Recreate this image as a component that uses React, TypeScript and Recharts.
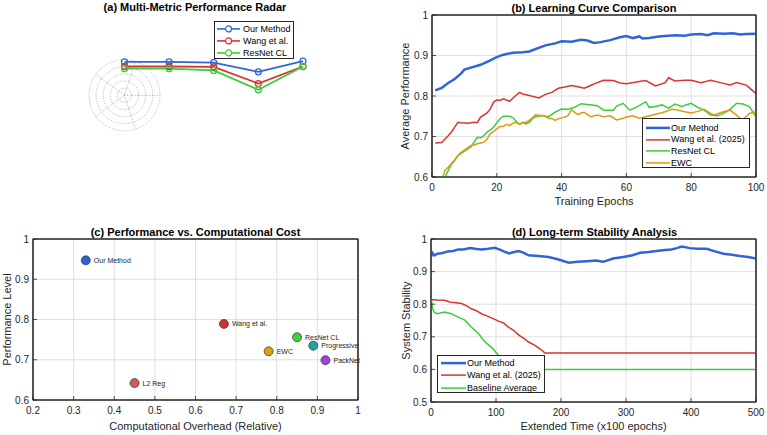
import React from 'react';
import {
  LineChart, Line, XAxis, YAxis, CartesianGrid, Legend, ReferenceArea,
  ScatterChart, Scatter, Cell, LabelList,
  RadarChart, PolarGrid, PolarAngleAxis, PolarRadiusAxis,
} from 'recharts';

const FONT = '"Liberation Sans", Arial, Helvetica, sans-serif';
const AX = '#262626';
const GRID = '#e0e0e0';
const BLUE = '#2f65d9';
const RED = '#d93333';
const GREEN = '#3ccc3c';
const ORANGE = '#dd9a14';

// ---------- (a) radar ----------
const radarMetrics = ['Accuracy', 'Stability', 'Efficiency', 'Adaptability', 'Robustness'];
const radarAngles = [0, 1.2566, 2.5133, 3.7699, 5.0265];
const radarOurs = [0.94, 0.94, 0.92, 0.66, 0.96];
const radarWang = [0.81, 0.81, 0.80, 0.33, 0.81];
const radarResNet = [0.75, 0.75, 0.70, 0.155, 0.81];
const radarRings = [0.2, 0.4, 0.6, 0.8, 1.0];

// ---------- (b) learning curves ----------
const epochsOurs = [1,3,5,7,9,10,12,15,18,20,22,25,28,30,32,35,38,40,43,46,48,50,52,55,58,60,62,64,65,67,70,73,75,78,80,83,85,87,90,93,95,97,100];
const perfOurs = [0.814,0.820,0.832,0.842,0.856,0.865,0.870,0.877,0.888,0.896,0.902,0.907,0.908,0.910,0.916,0.925,0.930,0.935,0.934,0.939,0.937,0.931,0.933,0.938,0.945,0.948,0.943,0.947,0.942,0.943,0.947,0.949,0.950,0.949,0.952,0.953,0.950,0.955,0.954,0.955,0.952,0.953,0.954];
const epochsWang = [1,3,5,6,7,8,9,11,13,14,15,17,18,19,20,21,22,24,25,27,28,30,33,35,37,39,41,43,45,47,49,50,53,56,58,60,64,66,69,72,73,75,78,80,83,86,89,92,94,97,100];
const perfWang = [0.684,0.685,0.702,0.711,0.723,0.735,0.734,0.733,0.735,0.734,0.748,0.758,0.768,0.785,0.790,0.789,0.793,0.787,0.795,0.809,0.805,0.801,0.795,0.804,0.809,0.819,0.822,0.826,0.823,0.819,0.826,0.830,0.839,0.838,0.832,0.830,0.836,0.838,0.825,0.833,0.845,0.837,0.839,0.839,0.833,0.839,0.833,0.827,0.833,0.827,0.806];
const epochsResNet = [1,2,3,4,5,6,7,8,10,12,13,14,15,16,17,18,19,20,21,22,24,25,26,27,28,29,30,31,32,34,36,38,40,42,44,46,48,51,53,56,57,59,61,63,66,67,69,71,73,75,77,80,82,84,86,88,90,92,94,96,98,100];
const perfResNet = [0.55,0.565,0.585,0.599,0.616,0.631,0.642,0.653,0.664,0.674,0.686,0.698,0.697,0.702,0.711,0.716,0.723,0.734,0.744,0.750,0.750,0.746,0.737,0.730,0.735,0.731,0.735,0.744,0.749,0.752,0.749,0.760,0.768,0.767,0.772,0.781,0.779,0.776,0.765,0.765,0.775,0.782,0.765,0.772,0.786,0.772,0.774,0.778,0.770,0.780,0.774,0.782,0.772,0.765,0.753,0.751,0.757,0.767,0.782,0.780,0.774,0.748];
const epochsEWC = [1,2,3,4,5,6,7,8,9,10,11,12,13,14,15,16,17,18,19,20,21,22,23,24,25,26,27,28,29,30,31,32,33,34,35,36,37,38,39,40,41,42,43,44,45,46,47,48,49,51,53,55,57,59,60,62,64,66,68,70,72,74,76,78,80,82,84,86,87,90,92,94,95,96,98,100];
const perfEWC = [0.55,0.57,0.592,0.616,0.624,0.633,0.641,0.653,0.661,0.667,0.672,0.678,0.679,0.682,0.684,0.686,0.694,0.707,0.712,0.719,0.725,0.725,0.730,0.727,0.733,0.735,0.730,0.734,0.735,0.740,0.746,0.754,0.752,0.752,0.749,0.745,0.744,0.740,0.744,0.746,0.748,0.752,0.766,0.760,0.754,0.758,0.760,0.754,0.749,0.753,0.749,0.751,0.741,0.745,0.748,0.751,0.745,0.749,0.753,0.757,0.761,0.767,0.765,0.761,0.758,0.762,0.767,0.757,0.753,0.761,0.765,0.753,0.745,0.742,0.757,0.761];
const epochTicks = [0, 20, 40, 60, 80, 100];
const perfTicks = [0.6, 0.7, 0.8, 0.9, 1];

// ---------- (c) scatter ----------
const methodNames = ['Our Method', 'L2 Reg', 'Wang et al.', 'EWC', 'ResNet CL', 'Progressive', 'PackNet'];
const methodCost = [0.33, 0.45, 0.67, 0.78, 0.85, 0.89, 0.92];
const methodPerf = [0.947, 0.642, 0.789, 0.721, 0.756, 0.735, 0.699];
const methodColors = ['#2e62d0', '#cd5c5c', '#d12f2f', '#d4a017', '#3fcf3f', '#1fa3a3', '#a040dd'];
const costTicks = [0.2, 0.3, 0.4, 0.5, 0.6, 0.7, 0.8, 0.9, 1];
const levelTicks = [0.6, 0.7, 0.8, 0.9, 1];

// ---------- (d) stability ----------
const timeOurs = [0,2,5,10,18,26,34,42,50,60,70,78,88,98,105,112,120,128,135,142,150,165,181,195,212,225,240,253,265,280,296,310,322,335,347,360,370,378,386,398,410,424,437,450,463,475,488,500];
const stabOurs = [0.945,0.958,0.950,0.955,0.957,0.962,0.963,0.968,0.968,0.972,0.969,0.968,0.970,0.973,0.968,0.962,0.956,0.960,0.963,0.958,0.950,0.948,0.945,0.938,0.927,0.930,0.932,0.934,0.930,0.940,0.945,0.950,0.958,0.960,0.963,0.966,0.968,0.972,0.977,0.972,0.970,0.970,0.962,0.955,0.952,0.948,0.945,0.940];
const timeWang = [0,1,3,10,21,30,36,47,55,62,70,78,85,93,104,112,119,127,135,143,150,160,168,173,175,200,300,400,500];
const stabWang = [0.823,0.813,0.814,0.813,0.812,0.806,0.805,0.802,0.795,0.786,0.780,0.770,0.765,0.758,0.748,0.742,0.730,0.720,0.705,0.695,0.684,0.674,0.662,0.655,0.650,0.650,0.650,0.650,0.650];
const timeBase = [0,2,5,10,21,31,41,52,62,73,83,94,104,110,118,125,200,300,400,500];
const stabBase = [0.823,0.790,0.775,0.771,0.776,0.771,0.761,0.751,0.730,0.710,0.684,0.666,0.643,0.630,0.612,0.600,0.600,0.600,0.600,0.600];
const timeTicks = [0, 100, 200, 300, 400, 500];
const stabTicks = [0.5, 0.6, 0.7, 0.8, 0.9, 1];

const zip = (xs: number[], ys: number[]) => xs.map((x, i) => ({ x, y: ys[i] }));
const fmt1 = (v: number) => String(Math.round(v * 10) / 10);

const tickStyle = { fontSize: 10, fill: AX, fontFamily: FONT };
const labelStyle = { fontSize: 11, fill: AX, fontFamily: FONT };
const axisLineStyle = { stroke: AX, strokeWidth: 1 };
const tickLineStyle = { stroke: AX, strokeWidth: 0.8 };

function Title({ cx, cy, text }: { cx: number; cy: number; text: string }) {
  return (
    <div style={{
      position: 'absolute', left: cx - 160, top: cy - 7, width: 320, textAlign: 'center',
      fontFamily: FONT, fontWeight: 'bold', fontSize: 11, lineHeight: '14px', color: '#000', whiteSpace: 'nowrap',
    }}>{text}</div>
  );
}

type LegOpts = {
  order: string[]; widths: Record<string, number>; width: number; height: number;
  padTop: number; padLeft: number; rowH: number; lineLen: number; gap: number; marker?: boolean;
};
function makeLegend(o: LegOpts) {
  return (props: any) => {
    const payload = [...(props.payload || [])].sort(
      (a: any, b: any) => o.order.indexOf(a.value) - o.order.indexOf(b.value));
    return (
      <div style={{
        boxSizing: 'border-box', width: o.width, height: o.height, border: '1px solid #262626',
        background: '#fff', paddingTop: o.padTop, paddingLeft: o.padLeft, fontFamily: FONT,
        fontSize: 9, color: '#000', lineHeight: 'normal', textAlign: 'left',
      }}>
        {payload.map((p: any) => (
          <div key={p.value} style={{ height: o.rowH, display: 'flex', alignItems: 'center', whiteSpace: 'nowrap' }}>
            <svg width={o.lineLen} height={o.rowH} style={{ flex: 'none', display: 'block' }}>
              <line x1={0} x2={o.lineLen} y1={o.rowH / 2} y2={o.rowH / 2} stroke={p.color} strokeWidth={o.widths[p.value] || 1.5} />
              {o.marker && <circle cx={o.lineLen / 2} cy={o.rowH / 2} r={3} fill="#fff" stroke={p.color} strokeWidth={1.2} />}
            </svg>
            <span style={{ marginLeft: o.gap }}>{p.value}</span>
          </div>
        ))}
      </div>
    );
  };
}

function ScatterLabel(props: any) {
  const { x, y, width, height, value } = props;
  return (
    <text x={x + width + 3.5} y={y + height / 2} dominantBaseline="central" fontSize={7}
      fill={AX} fontFamily={FONT}>{value}</text>
  );
}

function Frame({ x, y }: { x: number[]; y: number[] }) {
  return null;
}

function PanelA() {
  const R = 35.5;
  const table = radarAngles.map((t, i) => ({ theta: t, ours: radarOurs[i], wang: radarWang[i], resnet: radarResNet[i] }));
  const gridData = radarMetrics.map((m) => ({ metric: m, v: 0 }));
  const legend = makeLegend({
    order: ['Our Method', 'Wang et al.', 'ResNet CL'],
    widths: { 'Our Method': 1.6, 'Wang et al.': 1.6, 'ResNet CL': 1.6 },
    width: 80, height: 38, padTop: 1.1, padLeft: 2, rowH: 11.85, lineLen: 23, gap: 3, marker: true,
  });
  return (
    <>
      <div style={{ position: 'absolute', left: 74, top: 45 }}>
        <RadarChart width={101} height={101} cx={50.5} cy={50.25} outerRadius={R} innerRadius={0}
          startAngle={0} endAngle={360} data={gridData} margin={{ top: 0, right: 0, bottom: 0, left: 0 }}>
          <PolarGrid gridType="circle" stroke="#9a9a9a" strokeWidth={0.8} strokeDasharray="1 1.5"
            polarRadius={radarRings.map((r) => r * R)}
            polarAngles={radarAngles.map((a) => (a * 180) / Math.PI)} />
          <PolarAngleAxis dataKey="metric" tick={false} axisLine={false} tickLine={false} />
          <PolarRadiusAxis domain={[0, 1]} tick={false} axisLine={false} tickCount={6} />
        </RadarChart>
      </div>
      <div style={{ position: 'absolute', left: 0, top: 0 }}>
        <LineChart width={383} height={220} data={table} margin={{ left: 89, top: 42, right: 45.5, bottom: 89.25 }}>
          <XAxis type="number" dataKey="theta" domain={[-1, 6]} hide height={0} />
          <YAxis type="number" domain={[-1, 1.5]} hide width={0} />
          <Line type="linear" dataKey="ours" name="Our Method" stroke={BLUE} strokeWidth={1.8}
            dot={{ r: 3, fill: 'none', stroke: BLUE, strokeWidth: 1.3 }} isAnimationActive={false} />
          <Line type="linear" dataKey="wang" name="Wang et al." stroke={RED} strokeWidth={1.8}
            dot={{ r: 3, fill: 'none', stroke: RED, strokeWidth: 1.3 }} isAnimationActive={false} />
          <Line type="linear" dataKey="resnet" name="ResNet CL" stroke={GREEN} strokeWidth={1.8}
            dot={{ r: 3, fill: 'none', stroke: GREEN, strokeWidth: 1.3 }} isAnimationActive={false} />
          <Legend layout="vertical" align="center" verticalAlign="middle" content={legend}
            wrapperStyle={{ left: 214, top: 21, width: 'auto', height: 'auto' }} />
        </LineChart>
      </div>
      <Title cx={195} cy={7} text="(a) Multi-Metric Performance Radar" />
    </>
  );
}

function PanelB() {
  const legend = makeLegend({
    order: ['Our Method', 'Wang et al. (2025)', 'ResNet CL', 'EWC'],
    widths: { 'Our Method': 2.5, 'Wang et al. (2025)': 1.5, 'ResNet CL': 1.5, EWC: 1.5 },
    width: 108, height: 50, padTop: 2.8, padLeft: 3, rowH: 11.8, lineLen: 24, gap: 1,
  });
  return (
    <>
      <div style={{ position: 'absolute', left: 383, top: 0 }}>
        <LineChart width={384} height={220} margin={{ top: 14, right: 10, bottom: 0, left: 0 }}>
          <CartesianGrid stroke={GRID} strokeWidth={1} />
          <XAxis type="number" dataKey="x" domain={[0, 100]} ticks={epochTicks} allowDataOverflow
            height={43} stroke={AX} axisLine={axisLineStyle} tickLine={tickLineStyle} tickSize={-4} tickMargin={11} tick={tickStyle}
            label={{ value: 'Training Epochs', position: 'center', dy: 3, style: labelStyle }} />
          <XAxis xAxisId="top" orientation="top" type="number" domain={[0, 100]} ticks={epochTicks}
            allowDataOverflow height={1} stroke={AX} axisLine={axisLineStyle} tickLine={tickLineStyle} tickSize={-4} tick={false} />
          <YAxis type="number" domain={[0.6, 1]} ticks={perfTicks} allowDataOverflow width={49}
            stroke={AX} axisLine={axisLineStyle} tickLine={tickLineStyle} tickSize={-4} tickMargin={8} tick={tickStyle} tickFormatter={fmt1}
            label={{ value: 'Average Performance', position: 'center', angle: -90, dx: -2, style: labelStyle }} />
          <YAxis yAxisId="right" orientation="right" type="number" domain={[0.6, 1]} ticks={perfTicks}
            allowDataOverflow width={1} stroke={AX} axisLine={axisLineStyle} tickLine={tickLineStyle} tickSize={-4} tick={false} />
          <Line data={zip(epochsOurs, perfOurs)} dataKey="y" name="Our Method" stroke={BLUE} strokeWidth={2.5} dot={false} isAnimationActive={false} />
          <Line data={zip(epochsWang, perfWang)} dataKey="y" name="Wang et al. (2025)" stroke={RED} strokeWidth={1.5} dot={false} isAnimationActive={false} />
          <Line data={zip(epochsResNet, perfResNet)} dataKey="y" name="ResNet CL" stroke={GREEN} strokeWidth={1.5} dot={false} isAnimationActive={false} />
          <Line data={zip(epochsEWC, perfEWC)} dataKey="y" name="EWC" stroke={ORANGE} strokeWidth={1.5} dot={false} isAnimationActive={false} />
          <ReferenceArea x1={0} x2={100} y1={0.6} y2={1} fill="none" fillOpacity={0} stroke={AX} strokeWidth={1.1} ifOverflow="visible" />
          <Legend layout="vertical" align="center" verticalAlign="middle" content={legend}
            wrapperStyle={{ left: 259, top: 118, width: 'auto', height: 'auto' }} />
        </LineChart>
      </div>
      <Title cx={594} cy={7.5} text="(b) Learning Curve Comparison" />
    </>
  );
}

function PanelC() {
  const pts = methodNames.map((n, i) => ({ name: n, x: methodCost[i], y: methodPerf[i] }));
  return (
    <>
      <div style={{ position: 'absolute', left: 0, top: 220 }}>
        <ScatterChart width={383} height={215} margin={{ top: 18, right: 24, bottom: 0, left: 0 }}>
          <CartesianGrid stroke={GRID} strokeWidth={1} />
          <XAxis type="number" dataKey="x" domain={[0.2, 1]} ticks={costTicks} allowDataOverflow
            height={35} stroke={AX} axisLine={axisLineStyle} tickLine={tickLineStyle} tickSize={-4} tickMargin={11} tick={tickStyle} tickFormatter={fmt1}
            label={{ value: 'Computational Overhead (Relative)', position: 'center', dy: 9, style: labelStyle }} />
          <XAxis xAxisId="top" orientation="top" type="number" domain={[0.2, 1]} ticks={costTicks}
            allowDataOverflow height={1} stroke={AX} axisLine={axisLineStyle} tickLine={tickLineStyle} tickSize={-4} tick={false} />
          <YAxis type="number" dataKey="y" domain={[0.6, 1]} ticks={levelTicks} allowDataOverflow width={33}
            stroke={AX} axisLine={axisLineStyle} tickLine={tickLineStyle} tickSize={-4} tickMargin={8} tick={tickStyle} tickFormatter={fmt1}
            label={{ value: 'Performance Level', position: 'center', angle: -90, dx: -9, style: labelStyle }} />
          <YAxis yAxisId="right" orientation="right" type="number" domain={[0.6, 1]} ticks={levelTicks}
            allowDataOverflow width={1} stroke={AX} axisLine={axisLineStyle} tickLine={tickLineStyle} tickSize={-4} tick={false} />
          <ReferenceArea x1={0.2} x2={1} y1={0.6} y2={1} fill="none" fillOpacity={0} stroke={AX} strokeWidth={1.1} ifOverflow="visible" />
          <Scatter data={pts} stroke="#333" strokeWidth={0.7} isAnimationActive={false}>
            {pts.map((p, i) => <Cell key={p.name} fill={methodColors[i]} />)}
            <LabelList dataKey="name" content={ScatterLabel} />
          </Scatter>
        </ScatterChart>
      </div>
      <Title cx={195.5} cy={231.7} text="(c) Performance vs. Computational Cost" />
    </>
  );
}

function PanelD() {
  const legend = makeLegend({
    order: ['Our Method', 'Wang et al. (2025)', 'Baseline Average'],
    widths: { 'Our Method': 2.5, 'Wang et al. (2025)': 1.5, 'Baseline Average': 1.5 },
    width: 108, height: 38, padTop: 1.2, padLeft: 3, rowH: 12.2, lineLen: 25, gap: 1,
  });
  return (
    <>
      <div style={{ position: 'absolute', left: 383, top: 220 }}>
        <LineChart width={384} height={215} margin={{ top: 18, right: 10, bottom: 0, left: 0 }}>
          <CartesianGrid stroke={GRID} strokeWidth={1} />
          <XAxis type="number" dataKey="x" domain={[0, 500]} ticks={timeTicks} allowDataOverflow
            height={33} stroke={AX} axisLine={axisLineStyle} tickLine={tickLineStyle} tickSize={-4} tickMargin={11} tick={tickStyle}
            label={{ value: 'Extended Time (x100 epochs)', position: 'center', dy: 8, style: labelStyle }} />
          <XAxis xAxisId="top" orientation="top" type="number" domain={[0, 500]} ticks={timeTicks}
            allowDataOverflow height={1} stroke={AX} axisLine={axisLineStyle} tickLine={tickLineStyle} tickSize={-4} tick={false} />
          <YAxis type="number" domain={[0.5, 1]} ticks={stabTicks} allowDataOverflow width={48}
            stroke={AX} axisLine={axisLineStyle} tickLine={tickLineStyle} tickSize={-4} tickMargin={8} tick={tickStyle} tickFormatter={fmt1}
            label={{ value: 'System Stability', position: 'center', angle: -90, dx: -1, style: labelStyle }} />
          <YAxis yAxisId="right" orientation="right" type="number" domain={[0.5, 1]} ticks={stabTicks}
            allowDataOverflow width={1} stroke={AX} axisLine={axisLineStyle} tickLine={tickLineStyle} tickSize={-4} tick={false} />
          <Line data={zip(timeOurs, stabOurs)} dataKey="y" name="Our Method" stroke={BLUE} strokeWidth={2.5} dot={false} isAnimationActive={false} />
          <Line data={zip(timeWang, stabWang)} dataKey="y" name="Wang et al. (2025)" stroke={RED} strokeWidth={1.5} dot={false} isAnimationActive={false} />
          <Line data={zip(timeBase, stabBase)} dataKey="y" name="Baseline Average" stroke={GREEN} strokeWidth={1.5} dot={false} isAnimationActive={false} />
          <ReferenceArea x1={0} x2={500} y1={0.5} y2={1} fill="none" fillOpacity={0} stroke={AX} strokeWidth={1.1} ifOverflow="visible" />
          <Legend layout="vertical" align="center" verticalAlign="middle" content={legend}
            wrapperStyle={{ left: 54, top: 135, width: 'auto', height: 'auto' }} />
        </LineChart>
      </div>
      <Title cx={594.5} cy={231.7} text="(d) Long-term Stability Analysis" />
    </>
  );
}

export default function App() {
  return (
    <div style={{ position: 'absolute', left: 0, top: 0, width: 767, height: 435, background: '#fff', overflow: 'hidden' }}>
      <PanelA />
      <PanelB />
      <PanelC />
      <PanelD />
    </div>
  );
}
